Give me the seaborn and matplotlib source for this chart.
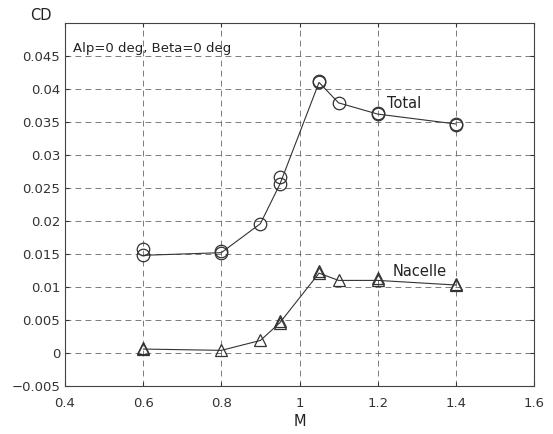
import matplotlib
matplotlib.use("Agg")
import matplotlib.pyplot as plt
import seaborn as sns
import numpy as np

# Mach numbers
mach = [0.6, 0.8, 0.9, 0.95, 1.05, 1.1, 1.2, 1.4]
cd_total = [0.0148, 0.0152, 0.0196, 0.0256, 0.0410, 0.0379, 0.0362, 0.0347]
cd_nacelle = [0.0006, 0.0004, 0.0019, 0.0046, 0.0121, 0.0110, 0.0110, 0.0103]

# second run (markers only, overlapping)
mach_b = [0.6, 0.8, 0.95, 1.05, 1.2, 1.4]
cd_total_b = [0.0157, 0.0154, 0.0266, 0.0412, 0.0363, 0.0346]
mach_nb = [0.6, 0.95, 1.05, 1.2, 1.4]
cd_nacelle_b = [0.0008, 0.0049, 0.0124, 0.0113, 0.0105]

sns.set_style("ticks")
plt.rcParams["font.family"] = ["DejaVu Sans"]
plt.rcParams["xtick.direction"] = "in"
plt.rcParams["ytick.direction"] = "in"

fig = plt.figure(figsize=(5.53, 4.34), dpi=100)
ax = fig.add_axes([65/553, 1 - 386/434, (534-65)/553, (386-23)/434])

line_kw = dict(color="#333333", linewidth=0.8, markersize=9,
               markerfacecolor="none", markeredgecolor="#333333", markeredgewidth=0.9)
sns.lineplot(x=mach, y=cd_total, marker="o", ax=ax, **line_kw)
sns.lineplot(x=mach, y=cd_nacelle, marker="^", ax=ax, **line_kw)
ax.plot(mach_b, cd_total_b, linestyle="none", marker="o", markersize=9,
        markerfacecolor="none", markeredgecolor="#333333", markeredgewidth=0.9)
ax.plot(mach_nb, cd_nacelle_b, linestyle="none", marker="^", markersize=9,
        markerfacecolor="none", markeredgecolor="#333333", markeredgewidth=0.9)

ax.set_xlim(0.4, 1.6)
ax.set_ylim(-0.005, 0.05)
ax.set_xticks([0.4, 0.6, 0.8, 1.0, 1.2, 1.4, 1.6])
ax.set_xticklabels(["0.4", "0.6", "0.8", "1", "1.2", "1.4", "1.6"])
ax.set_yticks(np.arange(-0.005, 0.0451, 0.005))
ax.set_yticklabels(["\u22120.005", "0", "0.005", "0.01", "0.015", "0.02", "0.025",
                    "0.03", "0.035", "0.04", "0.045"])
ax.tick_params(labelsize=9.5, colors="#333333", length=3, top=True, right=True)
ax.tick_params(axis="x", pad=8)
ax.grid(True, linestyle=(0, (7, 5)), color="#666666", linewidth=0.6)
for s in ax.spines.values():
    s.set_color("#444444")
    s.set_linewidth(0.8)

ax.set_xlabel("M", fontsize=10.5, color="#222222", labelpad=3)
ax.set_ylabel("")
fig.text(41/553, 1 - 16/434, "CD", fontsize=10.5, color="#222222", ha="center", va="center")

ax.text(0.42, 0.0462, "Alp=0 deg, Beta=0 deg", fontsize=9.5, color="#222222",
        va="center", ha="left", fontweight="medium")
ax.text(1.223, 0.0378, "Total", fontsize=10.5, color="#222222", va="center", ha="left",
        fontweight="medium")
ax.text(1.238, 0.0123, "Nacelle", fontsize=10.5, color="#222222", va="center", ha="left",
        fontweight="medium")

fig.savefig("out.png", dpi=100, facecolor="white")
